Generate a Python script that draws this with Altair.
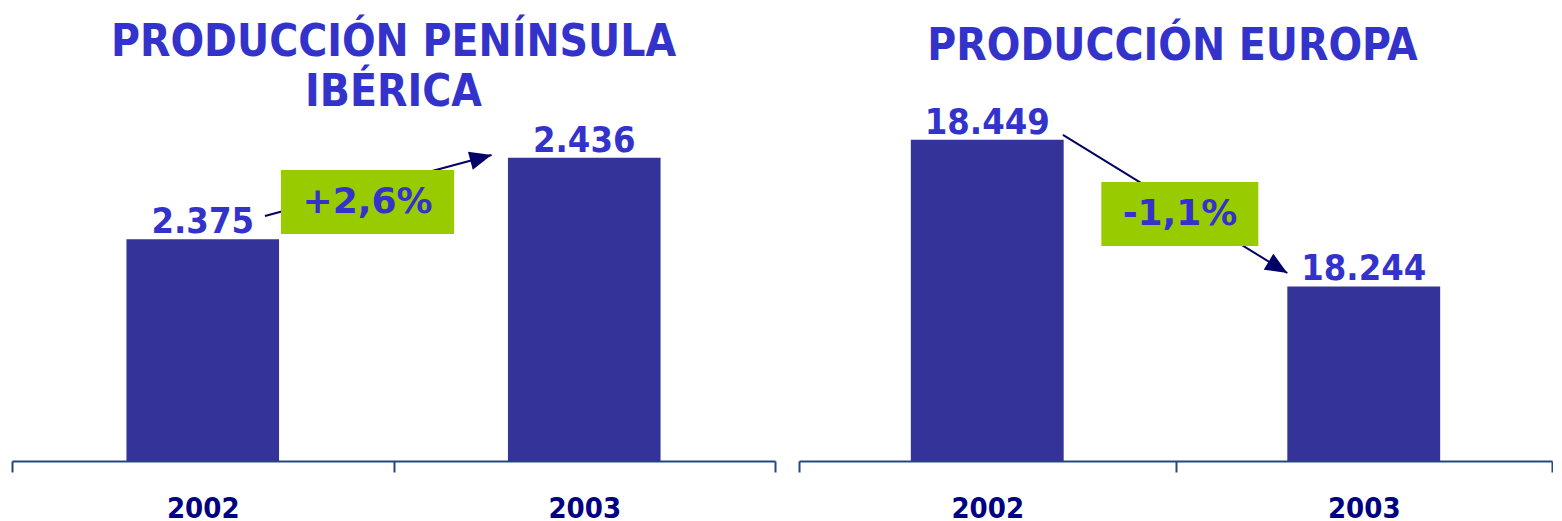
import altair as alt
import pandas as pd

# ---------------- data ----------------
years = ["2002", "2003"]
iberia_values = [2375, 2436]
europe_values = [18449, 18244]

iberia_title = ["PRODUCCIÓN PENÍNSULA", "IBÉRICA"]
europe_title = ["PRODUCCIÓN EUROPA"]

# axis domains (bars do not start at zero)
iberia_domain = [2209, 2468]
europe_domain = [18000, 18483.5]

# annotation geometry in data units (x: band index 0..2, y: value units)
iberia_box = dict(x1=0.705, x2=1.159, y1=2378.9, y2=2426.8, tx=0.932, ty=2402.8)
iberia_arrow = dict(x1=0.663, y1=2392.4, x2=1.257, y2=2438.0, angle=345)
europe_box = dict(x1=0.803, x2=1.220, y1=18300.4, y2=18389.9, tx=1.012, ty=18345.0)
europe_arrow = dict(x1=0.701, y1=18455.6, x2=1.297, y2=18262.7, angle=31)

# ---------------- style ----------------
FONT_C = "DejaVu Sans Condensed, DejaVu Sans"
FONT = "DejaVu Sans"
TITLE_COLOR = "#3333CC"
BAR_COLOR = "#333399"
YEAR_COLOR = "#000080"
BOX_COLOR = "#99CC00"
ARROW_COLOR = "#000066"
AXIS_COLOR = "#24477F"
HEIGHT = 346


def thousands(v):
    return f"{v:,}".replace(",", ".")


def pct_label(vals):
    p = (vals[1] - vals[0]) / vals[0] * 100
    return f"{p:+.1f}%".replace(".", ",")


def panel(title_lines, vals, ydom, width, title_offset, title_dx, box, arrow, bar_band):
    df = pd.DataFrame({"year": years, "value": vals,
                       "label": [thousands(v) for v in vals]})
    yscale = alt.Scale(domain=ydom, zero=False, nice=False)
    xband = alt.Scale(paddingInner=0, paddingOuter=0)

    bars = alt.Chart(df).mark_bar(color=BAR_COLOR, width=alt.RelativeBandSize(bar_band)).encode(
        x=alt.X("year:N", scale=xband, title=None,
                axis=alt.Axis(tickBand="extent", labelAngle=0, domainColor=AXIS_COLOR,
                              domainWidth=2, tickColor=AXIS_COLOR, tickWidth=2, tickSize=11,
                              labelFont=FONT_C, labelFontSize=29, labelFontWeight="bold",
                              labelColor=YEAR_COLOR, labelPadding=22, grid=False)),
        y=alt.Y("value:Q", scale=yscale, axis=None),
        y2=alt.datum(ydom[0]),
    )
    labels = alt.Chart(df).mark_text(
        font=FONT_C, fontSize=36, fontWeight="bold", color=TITLE_COLOR,
        baseline="alphabetic", dy=-6,
    ).encode(
        x=alt.X("year:N", scale=xband, axis=None),
        y=alt.Y("value:Q", scale=yscale, axis=None),
        text="label:N",
    )

    xq = alt.Scale(domain=[0, 2], zero=False, nice=False)
    arrow_df = pd.DataFrame([arrow])
    box_df = pd.DataFrame([dict(box, text=pct_label(vals))])

    line = alt.Chart(arrow_df).mark_rule(color=ARROW_COLOR, strokeWidth=2).encode(
        x=alt.X("x1:Q", scale=xq, axis=None), x2="x2:Q",
        y=alt.Y("y1:Q", scale=yscale, axis=None), y2="y2:Q",
    )
    head = alt.Chart(arrow_df).mark_point(
        shape="M0,0 L-2,-0.85 L-2,0.85 Z", filled=True, size=480, opacity=1,
        color=ARROW_COLOR, strokeWidth=0, angle=arrow["angle"],
    ).encode(
        x=alt.X("x2:Q", scale=xq, axis=None),
        y=alt.Y("y2:Q", scale=yscale, axis=None),
    )
    rect = alt.Chart(box_df).mark_rect(color=BOX_COLOR).encode(
        x=alt.X("x1:Q", scale=xq, axis=None), x2="x2:Q",
        y=alt.Y("y1:Q", scale=yscale, axis=None), y2="y2:Q",
    )
    pct = alt.Chart(box_df).mark_text(
        font=FONT, fontSize=36, fontWeight="bold", color=TITLE_COLOR, baseline="middle",
    ).encode(
        x=alt.X("tx:Q", scale=xq, axis=None),
        y=alt.Y("ty:Q", scale=yscale, axis=None),
        text="text:N",
    )

    return alt.layer(bars, labels, line, rect, pct, head).resolve_scale(
        x="independent"
    ).properties(
        width=width, height=HEIGHT,
        title=alt.TitleParams(text=title_lines, font=FONT_C, fontSize=44, fontWeight="bold",
                              color=TITLE_COLOR, lineHeight=50, anchor="middle",
                              offset=title_offset, dx=title_dx),
    )


left = panel(iberia_title, iberia_values, iberia_domain, 763, 0, 0,
             iberia_box, iberia_arrow, 0.4)
right = panel(europe_title, europe_values, europe_domain, 753, 36, -3,
              europe_box, europe_arrow, 0.406)

chart = alt.hconcat(left, right, spacing=24, bounds="flush").configure_view(
    stroke=None
).properties(
    padding={"left": 3, "top": 13, "right": 0, "bottom": 0}
)

chart.save("out.html", embed_options={"renderer": "svg", "actions": False})
